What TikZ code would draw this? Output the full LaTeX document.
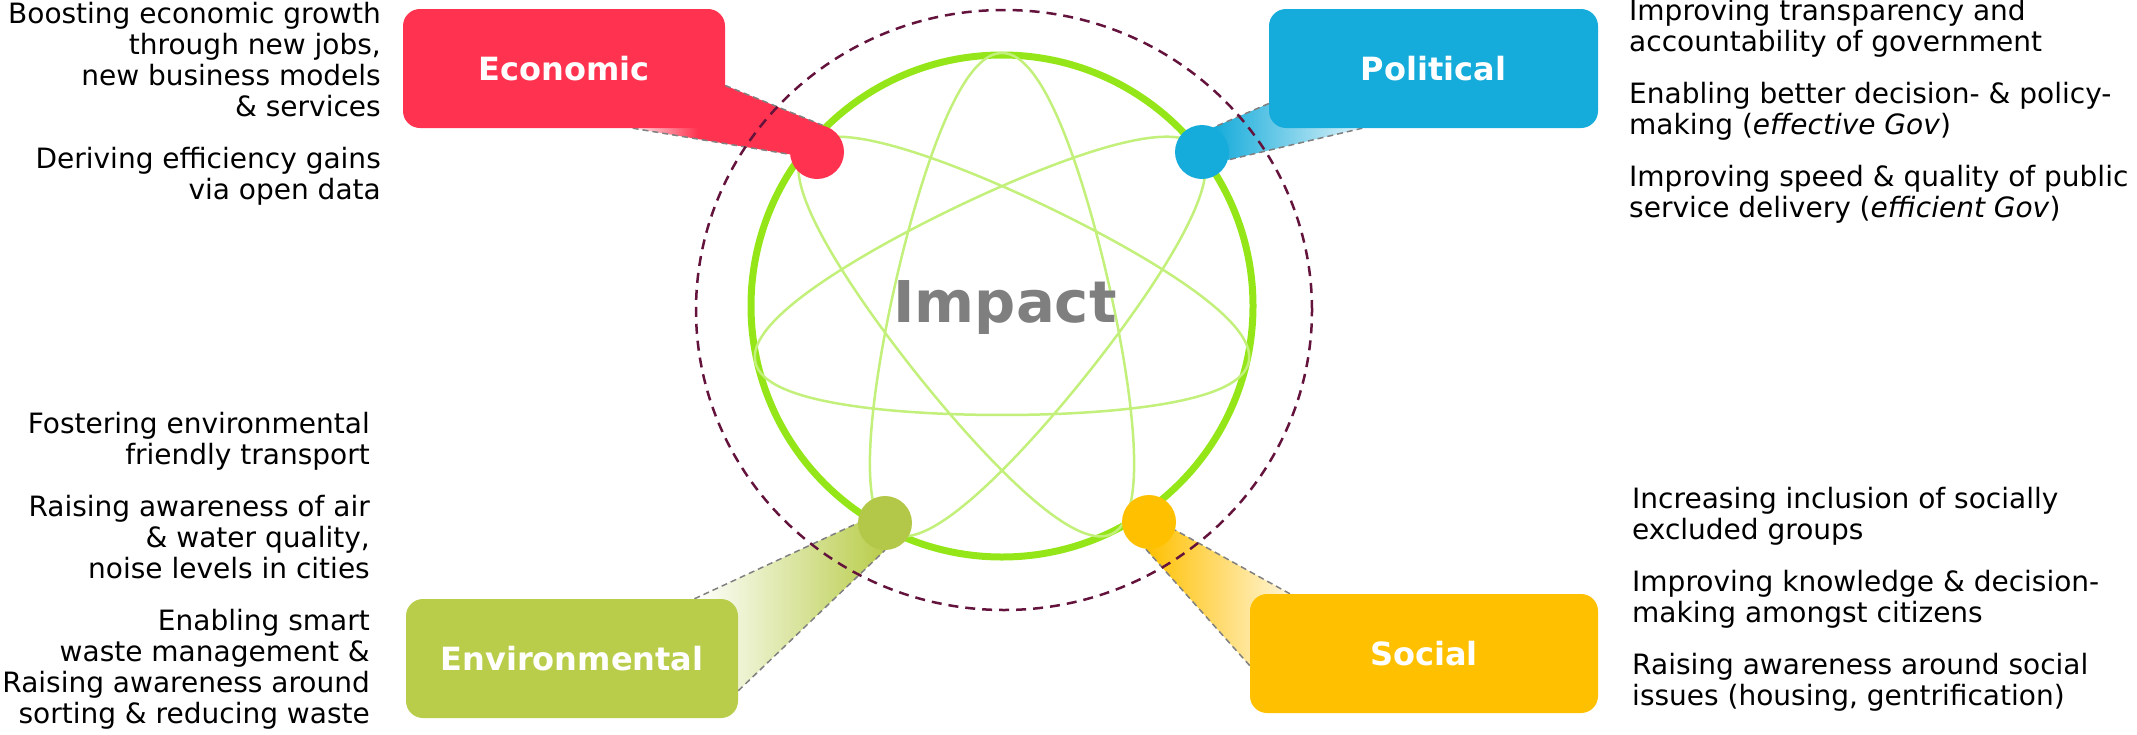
\documentclass[tikz,border=0pt]{standalone}
\usepackage{fontspec}
\setmainfont{DejaVu Sans}[BoldFont={DejaVu Sans Bold},ItalicFont={DejaVu Sans Oblique}]
\usepackage{tikz}
\usetikzlibrary{backgrounds}

\definecolor{econred}{RGB}{255,51,80}
\definecolor{politblue}{RGB}{21,171,218}
\definecolor{envgreen}{RGB}{185,205,75}
\definecolor{socialorange}{RGB}{255,192,0}
\definecolor{ringgreen}{RGB}{149,230,24}
\definecolor{orbitgreen}{RGB}{194,240,122}
\definecolor{ringdash}{RGB}{100,20,60}
\definecolor{beamgray}{RGB}{128,128,128}
\definecolor{impactgray}{RGB}{127,127,127}

\pgfdeclarehorizontalshading{econfade}{100bp}{color(0bp)=(econred!10); color(25bp)=(econred!10);
  color(42bp)=(econred); color(100bp)=(econred)}

\begin{document}
\begin{tikzpicture}[
          x=1pt, y=-1pt,
          catbox/.style={rounded corners=17pt, minimum height=119pt, inner sep=0pt,
            text=white, font=\fontsize{32}{38}\selectfont\bfseries},
          dot/.style={circle, minimum size=54pt, inner sep=0pt},
          beamedge/.style={draw=beamgray, line width=1.5pt, dash pattern=on 6pt off 4pt},
          note/.style={inner sep=0pt, font=\fontsize{28}{31}\selectfont},
          orbit/.style={draw=orbitgreen, line width=2.5pt}
        ]
        \useasboundingbox (0,0) rectangle (2137,734);

        \draw[ringdash, line width=2.5pt, dash pattern=on 10pt off 7pt] (1004,310) ellipse[x radius=308pt, y radius=300pt];
        \draw[ringgreen, line width=7pt] (1002,306) circle[radius=251pt];
        \draw[orbit] plot[domain=0:360, samples=400, smooth, variable=\t]
          ({1002-181*sin(3*\t)+72*sin(4*\t)}, {306-181*cos(3*\t)-72*cos(4*\t)});

        \node[font=\fontsize{57.6}{60}\selectfont\bfseries, text=impactgray, anchor=base] (impact) at (1005,322) {Impact};

        \node[dot, fill=econred] (econdot) at (817,152) {};
        \node[dot, fill=politblue] (politdot) at (1202,152) {};
        \node[dot, fill=envgreen!97!black] (envirdot) at (885,523) {};
        \node[dot, fill=socialorange] (socialdot) at (1149,522) {};

        \node[catbox, fill=econred, minimum width=322pt] (econ) at (564,68.5) {Economic};
        \node[catbox, fill=politblue, minimum width=329pt] (polit) at (1433.5,68.5) {Political};
        \node[catbox, fill=envgreen, minimum width=332pt] (envir) at (572,658.5) {Environmental};
        \node[catbox, fill=socialorange, minimum width=348pt] (social) at (1424,653.5) {Social};

        \begin{pgfonlayer}{background}
          \shade[shading=econfade]
            (econ.-6) -- (econdot.77) -- (econdot.185) -- (econ.-41) -- cycle;
          \shade[left color=politblue, right color=politblue!15]
            (polit.192) -- (politdot.65) -- (politdot.343) -- (polit.220) -- cycle;
          \shade[left color=white, right color=envgreen]
            (envir.26) -- (envirdot.180) -- (envirdot.270) -- (envir.-11) -- cycle;
          \shade[left color=socialorange, right color=socialorange!15]
            (social.156) -- (socialdot.343) -- (socialdot.263) -- (social.184) -- cycle;
          \draw[beamedge] (econ.-6) -- (econdot.77) (econ.-41) -- (econdot.185);
          \draw[beamedge] (polit.192) -- (politdot.65) (polit.220) -- (politdot.343);
          \draw[beamedge] (envir.26) -- (envirdot.180) (envir.-11) -- (envirdot.270);
          \draw[beamedge] (social.156) -- (socialdot.343) (social.184) -- (socialdot.263);
        \end{pgfonlayer}

        \node[note, anchor=north east, align=right] (econnote) at (381,2)
          {Boosting economic growth\\through new jobs,\\new business models\\\& services\\[21pt]Deriving efficiency gains\\via open data};
        \node[note, anchor=north west, align=left] (politnote) at (1629,-1)
          {Improving transparency and\\accountability of government\\[21pt]Enabling better decision- \& policy-\\making (\textit{effective Gov})\\[21pt]Improving speed \& quality of public\\service delivery (\textit{efficient Gov})};
        \node[note, anchor=north east, align=right] (envirnote) at (370,412)
          {Fostering environmental\\friendly transport\\[21pt]Raising awareness of air\\\& water quality,\\noise levels in cities\\[21pt]Enabling smart\\waste management \&\\Raising awareness around\\sorting \& reducing waste};
        \node[note, anchor=north west, align=left] (socialnote) at (1632,487)
          {Increasing inclusion of socially\\excluded groups\\[21pt]Improving knowledge \& decision-\\making amongst citizens\\[21pt]Raising awareness around social\\issues (housing, gentrification)};
\end{tikzpicture}
\end{document}
